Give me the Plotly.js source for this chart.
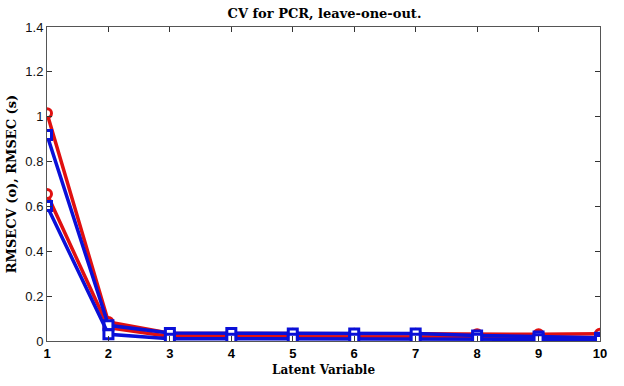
<!DOCTYPE html>
<html><head><meta charset="utf-8">
<script src="https://cdn.plot.ly/plotly-3.0.1.min.js"></script>
<style>html,body{margin:0;padding:0;background:#fff}#c{width:624px;height:386px}</style>
</head><body><div id="c"></div>
<script>
const latent = [1,2,3,4,5,6,7,8,9,10];
const rmsecvA = [1.015,0.085,0.035,0.033,0.032,0.032,0.032,0.030,0.030,0.032];
const rmsecvB = [0.655,0.060,0.020,0.020,0.020,0.020,0.020,0.018,0.016,0.015];
const rmsecA  = [0.918,0.070,0.036,0.036,0.033,0.033,0.033,0.025,0.020,0.015];
const rmsecB  = [0.602,0.030,0.010,0.010,0.010,0.010,0.010,0.010,0.008,0.005];
const yTicks = [0,0.2,0.4,0.6,0.8,1,1.2,1.4];
const yTickText = ['0','0.2','0.4','0.6','0.8','1','1.2','1.4'];

function tr(y, color, symbol){
  return {x: latent, y: y, mode: 'lines+markers', showlegend:false,
    line:{color: color, width: 3.5},
    marker:{symbol: symbol, size: 9, color:'#ffffff', line:{color: color, width: 3}}};
}
const data = [
  tr(rmsecvA,'#e01010','circle'),
  tr(rmsecvB,'#e01010','circle'),
  tr(rmsecA,'#0a10d8','square'),
  tr(rmsecB,'#0a10d8','square')
];
const layout = {
  width:624, height:386,
  margin:{l:47, r:24, t:27, b:45},
  paper_bgcolor:'#fff', plot_bgcolor:'#fff',
  title:{text:'<b>CV for PCR, leave-one-out.</b>', x:0.52, xanchor:'center', y:0.965, yanchor:'middle',
    font:{family:'DejaVu Serif, serif', size:13, color:'#000'}},
  xaxis:{range:[1,10], tickvals:latent, ticks:'inside', ticklen:5, tickcolor:'#333',
    showline:true, linecolor:'#555', linewidth:1, mirror:'ticks', showgrid:false, zeroline:false,
    tickfont:{family:'Liberation Sans, Arial, sans-serif', size:13, color:'#000', weight:'bold'},
    title:{text:'<b>Latent Variable</b>', standoff:6, font:{family:'DejaVu Serif, serif', size:12, color:'#000'}}},
  yaxis:{range:[0,1.4], tickvals:yTicks, ticktext:yTickText, ticks:'inside', ticklen:5, tickcolor:'#333',
    showline:true, linecolor:'#555', linewidth:1, mirror:'ticks', showgrid:false, zeroline:false,
    tickfont:{family:'Liberation Sans, Arial, sans-serif', size:13, color:'#111'},
    title:{text:'<b>RMSECV (o), RMSEC (s)</b>', standoff:5, font:{family:'DejaVu Serif, serif', size:13, color:'#000'}}}
};
Plotly.newPlot('c', data, layout, {displayModeBar:false, staticPlot:true});
</script></body></html>
